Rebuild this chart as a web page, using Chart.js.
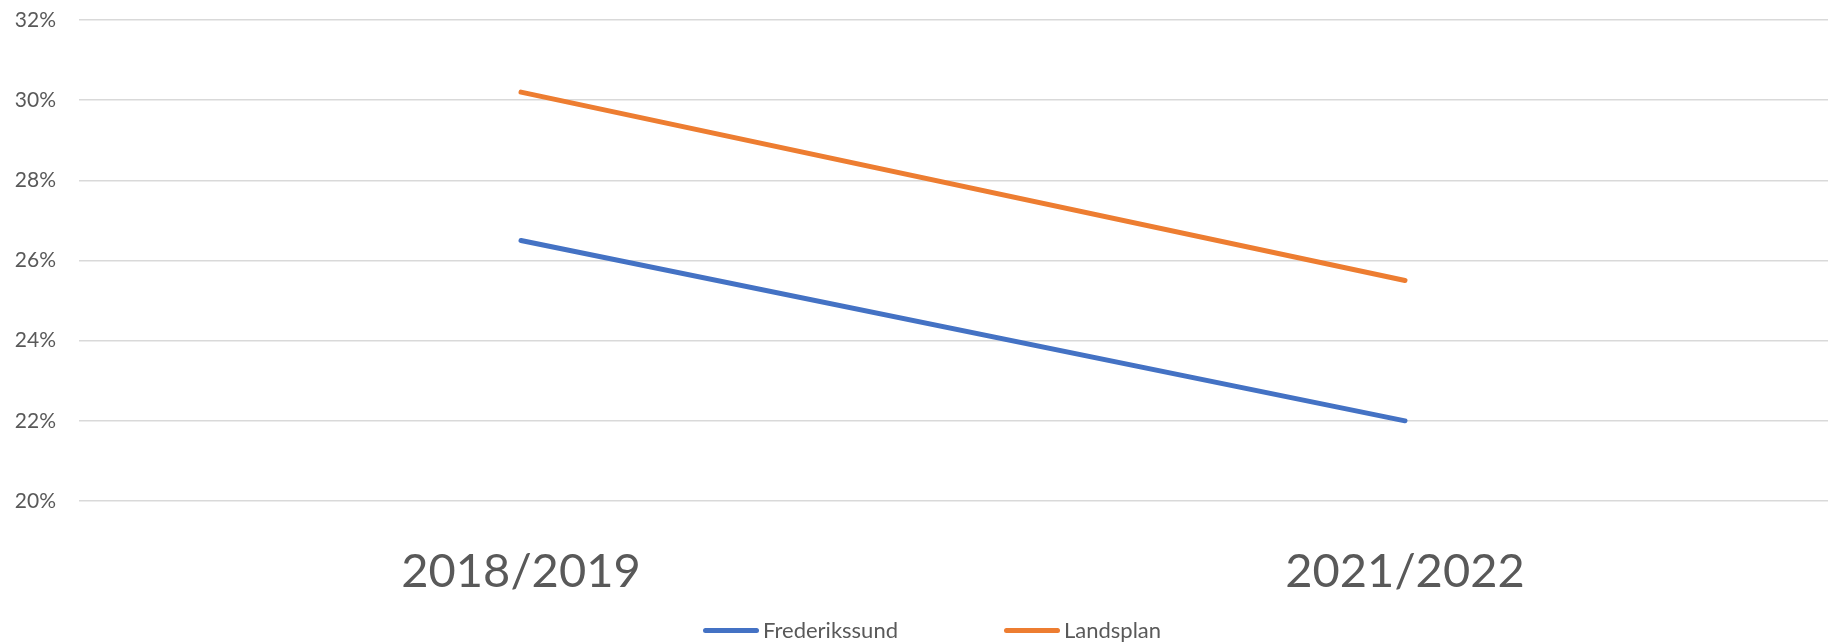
<!DOCTYPE html>
<html>
<head>
<meta charset="utf-8">
<script src="https://cdn.jsdelivr.net/npm/chart.js@4.4.0/dist/chart.umd.min.js"></script>
<style>
    html, body { margin: 0; padding: 0; background: #fff; overflow: hidden; }
    #wrap { width: 1847px; height: 643px; position: relative; }
    #forklaring {
        position: absolute; left: 703px; top: 617px;
        display: flex; gap: 106px; align-items: center;
        font-family: Lato, 'Open Sans', Arial, sans-serif; font-size: 22px; color: #595959;
        line-height: 26px;
    }
    #forklaring span.punkt { display: flex; align-items: center; gap: 4px; }
    #forklaring i { display: inline-block; width: 56px; height: 5px; border-radius: 3px; }
</style>
</head>
<body>
<div id="wrap">
    <canvas id="linje"></canvas>
    <div id="forklaring"></div>
</div>
<script>
// Data (procent)
const aar = ['2018/2019', '2021/2022'];
const frederikssund = [26.5, 22.0];
const landsplan = [30.2, 25.5];
const yTicks = [20, 22, 24, 26, 28, 30, 32];

const tekstFarve = '#595959';
const skrift = "Lato, 'Open Sans', Arial, sans-serif";

const ctx = document.getElementById('linje').getContext('2d');
const linjeChart = new Chart(ctx, {
    type: 'line',
    data: {
        labels: aar,
        datasets: [
            {
                label: 'Frederikssund',
                data: frederikssund,
                borderColor: '#4472C4',
                backgroundColor: '#4472C4',
                borderWidth: 5,
                borderCapStyle: 'round',
                pointRadius: 0,
                pointHoverRadius: 0,
                tension: 0
            },
            {
                label: 'Landsplan',
                data: landsplan,
                borderColor: '#ED7D31',
                backgroundColor: '#ED7D31',
                borderWidth: 5,
                borderCapStyle: 'round',
                pointRadius: 0,
                pointHoverRadius: 0,
                tension: 0
            }
        ]
    },
    options: {
        responsive: true,
        maintainAspectRatio: false,
        animation: false,
        layout: {
            padding: { top: 20, right: 0, bottom: 51, left: 0 }
        },
        scales: {
            x: {
                offset: true,
                grid: { display: false },
                border: { display: false },
                afterFit: s => { s.height = 91; s.paddingLeft = 0; s.paddingRight = 0; },
                ticks: {
                    color: tekstFarve,
                    padding: 35,
                    font: { family: skrift, size: 47 }
                }
            },
            y: {
                min: yTicks[0],
                max: yTicks[yTicks.length - 1],
                afterFit: s => { s.width = 79; s.paddingTop = 0; s.paddingBottom = 0; },
                afterBuildTicks: s => { s.ticks = yTicks.map(v => ({ value: v })); },
                grid: { color: '#d9d9d9', lineWidth: 1.5, drawTicks: false },
                border: { display: false },
                ticks: {
                    color: tekstFarve,
                    padding: 23,
                    font: { family: skrift, size: 21 },
                    callback: v => v + '%'
                }
            }
        },
        plugins: {
            tooltip: { enabled: false },
            legend: { display: false }
        }
    }
});

// forklaring bygget ud fra datasættene
const forklaring = document.getElementById('forklaring');
linjeChart.data.datasets.forEach(ds => {
    const punkt = document.createElement('span');
    punkt.className = 'punkt';
    punkt.innerHTML = `<i style="background:${ds.borderColor}"></i><span>${ds.label}</span>`;
    forklaring.appendChild(punkt);
});
</script>
</body>
</html>
